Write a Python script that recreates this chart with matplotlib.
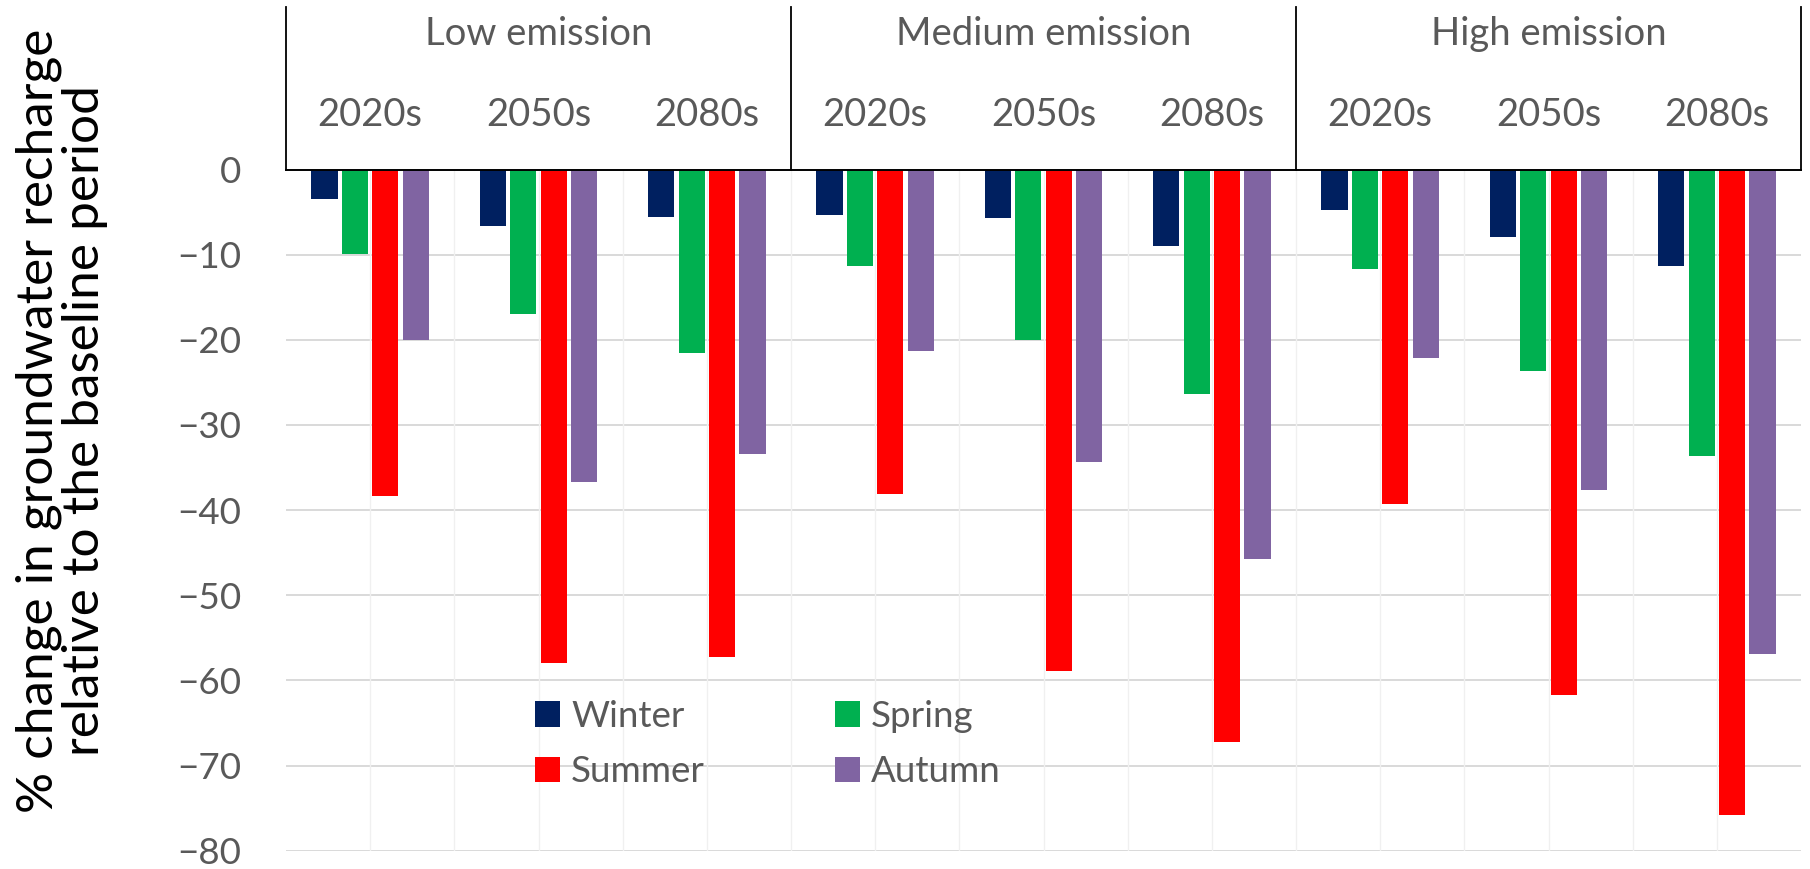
import numpy as np
import matplotlib.pyplot as plt

# scenarios / periods / seasons
groups = ["Low emission", "Medium emission", "High emission"]
periods = ["2020s", "2050s", "2080s"]
seasons = ["Winter", "Spring", "Summer", "Autumn"]
colors = ["#002060", "#00b050", "#ff0000", "#8064a2"]

# % change per season, 9 columns = 3 scenarios x 3 periods
winter = [-3.5, -6.6, -5.6, -5.3, -5.7, -9.0, -4.8, -7.9, -11.3]
spring = [-9.9, -17.0, -21.6, -11.3, -20.0, -26.4, -11.7, -23.7, -33.7]
summer = [-38.3, -57.9, -57.2, -38.1, -58.9, -67.2, -39.3, -61.7, -75.8]
autumn = [-20.0, -36.7, -33.4, -21.3, -34.3, -45.7, -22.1, -37.6, -56.9]
values = [winter, spring, summer, autumn]

W, H = 1810, 869
grey = "#595959"
lab_font = "Lato"
fs = 26.5

fig = plt.figure(figsize=(W / 100, H / 100), dpi=100)

x0, x1 = 286, 1801
y_top, y_zero, y_bot = 7, 169.5, 850.7
ax = fig.add_axes([x0 / W, 1 - y_bot / H, (x1 - x0) / W, (y_bot - y_zero) / H])
hx = fig.add_axes([x0 / W, 1 - y_zero / H, (x1 - x0) / W, (y_zero - y_top) / H])

n = len(groups) * len(periods)
xc = np.arange(n) + 0.5
step, bw = 0.181, 0.155
bars = []
for i, (s, v) in enumerate(zip(seasons, values)):
    bars.append(ax.bar(xc + (i - 1.5) * step, v, width=bw, color=colors[i], label=s, zorder=3))

ax.set_xlim(0, n)
ax.set_ylim(-80, 0)
ax.set_yticks(np.arange(-80, 1, 10))
ax.tick_params(axis="y", length=0, pad=32, labelsize=fs, labelcolor=grey)
for t in ax.get_yticklabels():
    t.set_fontfamily(lab_font)
ax.set_xticks([])
for sp in ax.spines.values():
    sp.set_visible(False)

# gridlines
for yv in range(-80, 0, 10):
    ax.axhline(yv, color="#d9d9d9", lw=1.4, zorder=1)
for k in range(1, 2 * n):
    ax.axvline(k * 0.5, color="#f0f0f0", lw=1.0, zorder=1)

# header with scenario / period labels
hx.set_xlim(0, n)
hx.set_ylim(0, 1)
hx.axis("off")
hx.plot([0, n], [0, 0], color="black", lw=1.4, clip_on=False)
for k in range(0, n + 1, 3):
    hx.plot([k, k], [0, 1], color="black", lw=1.3, clip_on=False)
for g, name in enumerate(groups):
    hx.text(g * 3 + 1.5, 0.766, name, ha="center", va="baseline",
            fontsize=fs + 1, color=grey, fontfamily=lab_font)
    for j, p in enumerate(periods):
        hx.text(g * 3 + j + 0.5, 0.268, p, ha="center", va="baseline",
                fontsize=fs + 1, color=grey, fontfamily=lab_font)

# legend filled row by row: Winter Spring / Summer Autumn
order = [0, 2, 1, 3]
leg = ax.legend([bars[i] for i in order], [seasons[i] for i in order],
                ncol=2, loc="upper left", bbox_to_anchor=(535 / W, 1 - 700 / H),
                bbox_transform=fig.transFigure, frameon=False, borderpad=0,
                borderaxespad=0, handlelength=0.68, handleheight=0.68,
                handletextpad=0.3, columnspacing=3.53, labelspacing=0.6,
                prop={"family": lab_font, "size": fs})
for t in leg.get_texts():
    t.set_color(grey)

fig.text(62 / W, 1 - 421 / H,
         "% change in groundwater recharge\nrelative to the baseline period",
         rotation=90, ha="center", va="center", multialignment="center",
         fontsize=37, color="black", fontfamily=lab_font, linespacing=1.0)

fig.savefig("out.png", dpi=100)
